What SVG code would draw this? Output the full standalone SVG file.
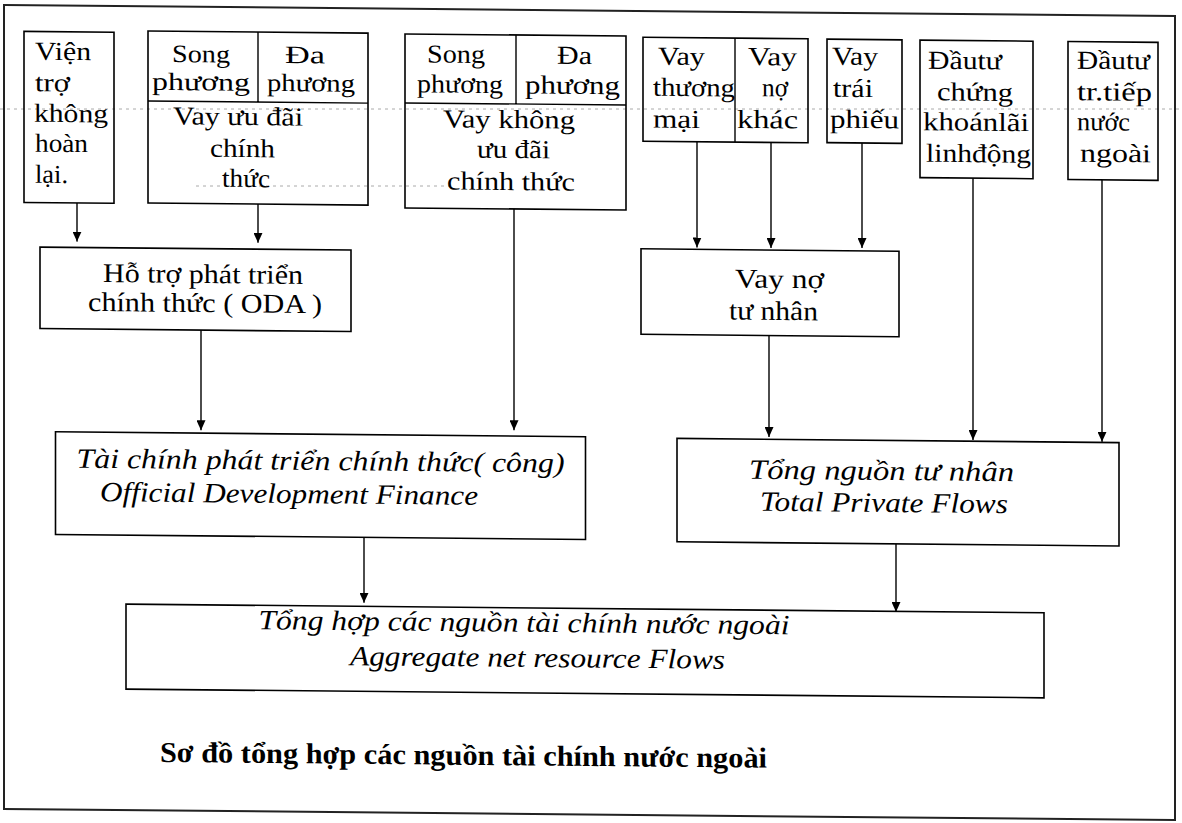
<svg xmlns="http://www.w3.org/2000/svg" width="1182" height="823" viewBox="0 0 1182 823">
<defs>
<style>
.box{fill:none;stroke:#000;stroke-width:1.6}
.dv{fill:none;stroke:#000;stroke-width:1.4}
.t{font-family:"Liberation Serif","Times New Roman",Tinos,"DejaVu Serif",serif;font-size:26px;fill:#000}
.s{font-family:"Liberation Serif","Times New Roman",Tinos,"DejaVu Serif",serif;font-size:25px;fill:#000}
.m{font-family:"Liberation Serif","Times New Roman",Tinos,"DejaVu Serif",serif;font-size:27px;fill:#000}
.i{font-family:"Liberation Serif","Times New Roman",Tinos,"DejaVu Serif",serif;font-size:28px;font-style:italic;fill:#000}
.cap{font-family:"Liberation Serif","Times New Roman",Tinos,"DejaVu Serif",serif;font-size:29px;font-weight:bold;fill:#000}
.c{fill:none;stroke:#000;stroke-width:1.4;marker-end:url(#ah)}
.frame{fill:none;stroke:#222;stroke-width:2}
.scan{fill:none;stroke:#aaa;stroke-width:1;stroke-dasharray:3 4}
</style>
<marker id="ah" markerUnits="userSpaceOnUse" markerWidth="10" markerHeight="9" viewBox="0 0 10 9" refX="10" refY="4.5" orient="auto">
<path d="M0,0 L10,4.5 L0,9 z" fill="#000"/>
</marker>
</defs>
<rect width="1182" height="823" fill="#fff"/>
<path class="scan" d="M0,109 H1182"/>
<path class="scan" d="M196,186 H450"/>
<g transform="translate(0,-5.61) skewY(0.545)">
<rect class="frame" x="4" y="10.5" width="1171" height="804"/>

<g id="n-vien-tro">
<rect class="box" x="24" y="36.8" width="90" height="171"/>
<text class="t" x="35" y="65" textLength="56" lengthAdjust="spacingAndGlyphs">Viện</text>
<text class="t" x="35" y="96.5" textLength="35" lengthAdjust="spacingAndGlyphs">trợ</text>
<text class="t" x="34" y="127" textLength="74" lengthAdjust="spacingAndGlyphs">không</text>
<text class="t" x="35" y="157" textLength="53" lengthAdjust="spacingAndGlyphs">hoàn</text>
<text class="t" x="35" y="188" textLength="33" lengthAdjust="spacingAndGlyphs">lại.</text>
</g>

<g id="n-vay-uu-dai">
<rect class="box" x="148" y="35.2" width="220" height="172"/>
<path class="dv" d="M148,105.2 H368 M258,35.2 V105.2"/>
<text class="s" x="172" y="66" textLength="58" lengthAdjust="spacingAndGlyphs">Song</text>
<text class="s" x="152" y="94" textLength="98" lengthAdjust="spacingAndGlyphs">phương</text>
<text class="s" x="285" y="66" textLength="40" lengthAdjust="spacingAndGlyphs">Đa</text>
<text class="s" x="267" y="94" textLength="88" lengthAdjust="spacingAndGlyphs">phương</text>
<text class="t" x="173" y="128.4" textLength="130" lengthAdjust="spacingAndGlyphs">Vay ưu đãi</text>
<text class="t" x="210" y="160.3" textLength="65" lengthAdjust="spacingAndGlyphs">chính</text>
<text class="t" x="222" y="190.3" textLength="48" lengthAdjust="spacingAndGlyphs">thức</text>
</g>

<g id="n-vay-khong-uu-dai">
<rect class="box" x="405" y="35.7" width="221" height="174"/>
<path class="dv" d="M405,104.7 H626 M516,35.7 V104.7"/>
<text class="t" x="427" y="64" textLength="58" lengthAdjust="spacingAndGlyphs">Song</text>
<text class="t" x="417" y="94" textLength="86" lengthAdjust="spacingAndGlyphs">phương</text>
<text class="t" x="557" y="64" textLength="35" lengthAdjust="spacingAndGlyphs">Đa</text>
<text class="t" x="525" y="94" textLength="95" lengthAdjust="spacingAndGlyphs">phương</text>
<text class="t" x="443" y="128.8" textLength="132" lengthAdjust="spacingAndGlyphs">Vay không</text>
<text class="t" x="477" y="158.7" textLength="73" lengthAdjust="spacingAndGlyphs">ưu đãi</text>
<text class="t" x="447" y="190.8" textLength="128" lengthAdjust="spacingAndGlyphs">chính thức</text>
</g>

<g id="n-vay-tm-no">
<rect class="box" x="643" y="36.7" width="165" height="104"/>
<path class="dv" d="M735,36.7 V140.7"/>
<text class="t" x="658" y="64" textLength="47" lengthAdjust="spacingAndGlyphs">Vay</text>
<text class="t" x="653" y="95.2" textLength="82" lengthAdjust="spacingAndGlyphs">thương</text>
<text class="t" x="653" y="127" textLength="47" lengthAdjust="spacingAndGlyphs">mại</text>
<text class="t" x="748" y="63.5" textLength="49" lengthAdjust="spacingAndGlyphs">Vay</text>
<text class="t" x="762" y="94.5" textLength="26" lengthAdjust="spacingAndGlyphs">nợ</text>
<text class="t" x="737" y="126.5" textLength="61" lengthAdjust="spacingAndGlyphs">khác</text>
</g>

<g id="n-vay-trai-phieu">
<rect class="box" x="827" y="36.9" width="75" height="103.5"/>
<text class="t" x="832" y="62.4" textLength="46" lengthAdjust="spacingAndGlyphs">Vay</text>
<text class="t" x="833" y="94.4" textLength="40" lengthAdjust="spacingAndGlyphs">trái</text>
<text class="t" x="830" y="125.4" textLength="69" lengthAdjust="spacingAndGlyphs">phiếu</text>
</g>

<g id="n-dau-tu-ck">
<rect class="box" x="920" y="37" width="113" height="137.5"/>
<text class="t" x="928" y="65.5" textLength="74" lengthAdjust="spacingAndGlyphs">Đầutư</text>
<text class="t" x="937" y="97" textLength="76" lengthAdjust="spacingAndGlyphs">chứng</text>
<text class="t" x="923" y="127" textLength="106" lengthAdjust="spacingAndGlyphs">khoánlãi</text>
<text class="t" x="926" y="158.5" textLength="105" lengthAdjust="spacingAndGlyphs">linhđộng</text>
</g>

<g id="n-dau-tu-tt">
<rect class="box" x="1068" y="37" width="90" height="138"/>
<text class="t" x="1077" y="64" textLength="73" lengthAdjust="spacingAndGlyphs">Đầutư</text>
<text class="t" x="1077" y="95.5" textLength="75" lengthAdjust="spacingAndGlyphs">tr.tiếp</text>
<text class="t" x="1077" y="125.5" textLength="53" lengthAdjust="spacingAndGlyphs">nước</text>
<text class="t" x="1080" y="157" textLength="71" lengthAdjust="spacingAndGlyphs">ngoài</text>
</g>

<g id="n-oda">
<rect class="box" x="40" y="252.3" width="311" height="81.5"/>
<text class="m" x="103" y="286.7" textLength="200" lengthAdjust="spacingAndGlyphs">Hỗ trợ phát triển</text>
<text class="m" x="88" y="315.7" textLength="234" lengthAdjust="spacingAndGlyphs">chính thức ( ODA )</text>
</g>

<g id="n-vay-no-tu-nhan">
<rect class="box" x="641" y="248.3" width="258" height="85.5"/>
<text class="m" x="735" y="286.2" textLength="89" lengthAdjust="spacingAndGlyphs">Vay nợ</text>
<text class="m" x="729" y="318.2" textLength="89" lengthAdjust="spacingAndGlyphs">tư nhân</text>
</g>

<g id="n-odf">
<rect class="box" x="55.5" y="436.8" width="530" height="102.7"/>
<text class="i" x="76.5" y="472.6" textLength="488" lengthAdjust="spacingAndGlyphs">Tài chính phát triển chính thức( công)</text>
<text class="i" x="100" y="505.9" textLength="378" lengthAdjust="spacingAndGlyphs">Official Development Finance</text>
</g>

<g id="n-tpf">
<rect class="box" x="677" y="437.6" width="442" height="103.4"/>
<text class="i" x="749" y="477.2" textLength="265" lengthAdjust="spacingAndGlyphs">Tổng nguồn tư nhân</text>
<text class="i" x="760" y="509.2" textLength="248" lengthAdjust="spacingAndGlyphs">Total Private Flows</text>
</g>

<g id="n-arf">
<rect class="box" x="126" y="608.5" width="918" height="85"/>
<text class="i" x="258.5" y="632.4" textLength="531" lengthAdjust="spacingAndGlyphs">Tổng hợp các nguồn tài chính nước ngoài</text>
<text class="i" x="350" y="667.5" textLength="375" lengthAdjust="spacingAndGlyphs">Aggregate net resource Flows</text>
</g>

<g id="connectors">
<path class="c" d="M77,207.8 V246.5"/>
<path class="c" d="M258,207.2 V246"/>
<path class="c" d="M201,333.8 V434"/>
<path class="c" d="M514,209.7 V431"/>
<path class="c" d="M697,140.7 V246.5"/>
<path class="c" d="M771,140.7 V246.3"/>
<path class="c" d="M862,140.4 V245.4"/>
<path class="c" d="M769,333.8 V435.3"/>
<path class="c" d="M973,174.5 V436.4"/>
<path class="c" d="M1102,175 V437"/>
<path class="c" d="M364,539.5 V605"/>
<path class="c" d="M896,541 V609"/>
</g>

<text id="caption" class="cap" x="160" y="766" textLength="607" lengthAdjust="spacingAndGlyphs">Sơ đồ tổng hợp các nguồn tài chính nước ngoài</text>
</g>
</svg>
